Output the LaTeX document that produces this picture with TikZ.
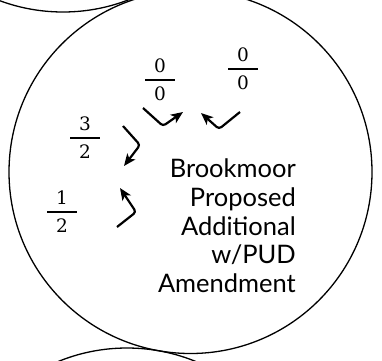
\documentclass[tikz,border=0pt]{standalone}
\usepackage{fontspec}
\setsansfont{Lato}
\newfontfamily\digitfont{DejaVu Serif}
\usetikzlibrary{arrows.meta,positioning}

\newcommand{\fr}[2]{\setlength{\arrayrulewidth}{1.2pt}\begin{tabular}{@{}c@{}}\makebox[30pt]{#1}\\\hline\rule{0pt}{19.5pt}#2\end{tabular}}

\begin{document}
\begin{tikzpicture}[x=1pt, y=-1pt,
    ring/.style={draw, line width=1.3pt},
    frac/.style={font=\digitfont\fontsize{18.5}{22}\selectfont, inner sep=0pt},
    lbl/.style={font=\sffamily\fontsize{25.5}{28.7}\selectfont, align=right, inner sep=0pt},
    arr/.style={-{Stealth[length=12pt, width=10pt, inset=3pt]}, line width=2.2pt, rounded corners=3pt}
]
\useasboundingbox (0,0) rectangle (382,360);
\clip (0,0) rectangle (382,360);

% parcels
\draw[ring] (63,-169.5) circle (181.5);
\draw[ring] (190.5,172) circle (181.5);
\draw[ring] (127,529.5) circle (181.5);

% turn counts
\node[frac] (f1) at (160,82) {\fr{0}{0}};
\node[frac] (f2) at (243,71) {\fr{0}{0}};
\node[frac] (f3) at (85,140) {\fr{3}{2}};
\node[frac] (f4) at (62,214) {\fr{1}{2}};

\node[lbl, anchor=east] (name) at (296,226) {Brookmoor\\Proposed\\Additional\\w/PUD\\Amendment};

% movements
\coordinate (m1a) at (143,108); \coordinate (m1b) at (163,126); \coordinate (m1c) at (183,112);
\coordinate (m2a) at (240,112); \coordinate (m2b) at (219,129); \coordinate (m2c) at (201,113);
\coordinate (m3a) at (123,126); \coordinate (m3b) at (140,145); \coordinate (m3c) at (124,166);
\coordinate (m4a) at (117,227); \coordinate (m4b) at (136,212); \coordinate (m4c) at (120,188);

\draw[arr] (m1a) -- (m1b) -- (m1c);
\draw[arr] (m2a) -- (m2b) -- (m2c);
\draw[arr] (m3a) -- (m3b) -- (m3c);
\draw[arr] (m4a) -- (m4b) -- (m4c);
\end{tikzpicture}
\end{document}
